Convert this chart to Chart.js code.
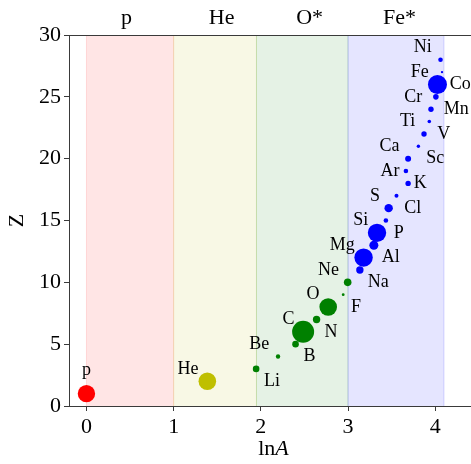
<!DOCTYPE html>
<html>
<head>
<meta charset="utf-8">
<script src="https://cdn.jsdelivr.net/npm/chart.js@4"></script>
<style>
  html, body { margin: 0; padding: 0; background: #ffffff; }
  #wrap { width: 471px; height: 464px; }
</style>
</head>
<body>
<div id="wrap"><canvas id="chart" width="471" height="464"></canvas></div>
<script>
// Nuclear species: symbol, mass number A and charge Z
const symbols = ['p', 'He', 'Li', 'Be', 'B', 'C', 'N', 'O', 'F', 'Ne',
  'Na', 'Mg', 'Al', 'Si', 'P', 'S', 'Cl', 'Ar', 'K', 'Ca',
  'Sc', 'Ti', 'V', 'Cr', 'Mn', 'Fe', 'Co', 'Ni'];
const massNumbers = [1, 4, 7, 9, 11, 12, 14, 16, 19, 20,
  23, 24, 27, 28, 31, 32, 35, 40, 39, 40,
  45, 48, 51, 52, 55, 56, 59, 58];
const charges = [1, 2, 3, 4, 5, 6, 7, 8, 9, 10,
  11, 12, 13, 14, 15, 16, 17, 18, 19, 20,
  21, 22, 23, 24, 25, 26, 27, 28];
// Mass group each species belongs to
const memberOf = ['p', 'He', 'O*', 'O*', 'O*', 'O*', 'O*', 'O*', 'O*', 'O*',
  'Fe*', 'Fe*', 'Fe*', 'Fe*', 'Fe*', 'Fe*', 'Fe*', 'Fe*', 'Fe*', 'Fe*',
  'Fe*', 'Fe*', 'Fe*', 'Fe*', 'Fe*', 'Fe*', 'Fe*', 'Fe*'];

// Mass groups and their lnA ranges
const groupNames = ['p', 'He', 'O*', 'Fe*'];
const groupStart = [0, 1, 1.95, 3];
const groupEnd = [1, 1.95, 3, 4.1];
const groupLabelAt = [0.46, 1.55, 2.56, 3.59];

// Axis ticks
const xTickValues = [0, 1, 2, 3, 4];
const yTickValues = [0, 5, 10, 15, 20, 25, 30];

// ---- styling ----
const groupColor = { 'p': '#ff0000', 'He': '#bfbf00', 'O*': '#008000', 'Fe*': '#0000ff' };
const groupShade = { 'p': 'rgba(255,0,0,0.10)', 'He': 'rgba(191,191,0,0.10)', 'O*': 'rgba(0,128,0,0.10)', 'Fe*': 'rgba(0,0,255,0.10)' };
const groupEdge = { 'p': 'rgba(255,0,0,0.12)', 'He': 'rgba(191,191,0,0.15)', 'O*': 'rgba(0,128,0,0.15)', 'Fe*': 'rgba(0,0,255,0.15)' };
const dotRadius = [8.7, 8.8, 3.3, 2.2, 3.3, 11, 3.7, 8.8, 1.4, 3.8,
  3.7, 9.2, 4.5, 9.2, 2.3, 4.2, 2.0, 2.7, 2.3, 3.0,
  1.7, 2.7, 1.8, 2.7, 2.8, 9.5, 1.2, 2.3];
const SERIF = '"Liberation Serif", "Times New Roman", serif';
const AXIS_COLOR = '#3a3a3a';

const points = symbols.map((s, i) => ({ x: Math.log(massNumbers[i]), y: charges[i] }));

// Shaded lnA bands behind the data
const bandsPlugin = {
  id: 'bands',
  beforeDatasetsDraw(chart) {
    const { ctx, chartArea: a, scales: { x } } = chart;
    ctx.save();
    groupNames.forEach((g, i) => {
      const x0 = x.getPixelForValue(groupStart[i]);
      const x1 = x.getPixelForValue(groupEnd[i]);
      ctx.fillStyle = groupShade[g];
      ctx.fillRect(x0, a.top, x1 - x0, a.bottom - a.top);
      ctx.strokeStyle = groupEdge[g];
      ctx.lineWidth = 1;
      ctx.beginPath();
      ctx.moveTo(x0, a.top); ctx.lineTo(x0, a.bottom);
      ctx.moveTo(x1, a.top); ctx.lineTo(x1, a.bottom);
      ctx.stroke();
    });
    ctx.restore();
  }
};

// Species names, group names, top frame line and axis titles
const textPlugin = {
  id: 'texts',
  afterDatasetsDraw(chart) {
    const { ctx, chartArea: a, scales: { x, y } } = chart;
    ctx.save();
    ctx.fillStyle = '#000';
    ctx.font = '18px ' + SERIF;
    ctx.textBaseline = 'middle';
    symbols.forEach((s, i) => {
      const lx = Math.log(massNumbers[i]);
      const z = charges[i];
      if (i === 0) {
        ctx.textAlign = 'center';
        ctx.fillText(s, x.getPixelForValue(lx), y.getPixelForValue(z + 1.9));
      } else if (z % 2 === 0) {
        ctx.textAlign = 'right';
        ctx.fillText(s, x.getPixelForValue(lx - 0.1), y.getPixelForValue(z + 1));
      } else {
        ctx.textAlign = 'left';
        ctx.fillText(s, x.getPixelForValue(lx + 0.09), y.getPixelForValue(z - 1));
      }
    });

    // group names above the frame
    ctx.font = '22px ' + SERIF;
    ctx.textAlign = 'center';
    ctx.textBaseline = 'alphabetic';
    groupNames.forEach((g, i) => {
      ctx.fillText(g, x.getPixelForValue(groupLabelAt[i]), 23.5);
    });

    // top frame line
    ctx.strokeStyle = AXIS_COLOR;
    ctx.lineWidth = 1;
    ctx.beginPath();
    ctx.moveTo(a.left, a.top + 0.5);
    ctx.lineTo(a.right, a.top + 0.5);
    ctx.stroke();

    // x title: ln A (A italic)
    ctx.font = '22px ' + SERIF;
    const w1 = ctx.measureText('ln').width;
    ctx.font = 'italic 22px ' + SERIF;
    const w2 = ctx.measureText('A').width;
    const cx = (a.left + a.right) / 2 + 3.5;
    const start = cx - (w1 + w2) / 2;
    ctx.textAlign = 'left';
    ctx.font = '22px ' + SERIF;
    ctx.fillText('ln', start, 455);
    ctx.font = 'italic 22px ' + SERIF;
    ctx.fillText('A', start + w1, 455);

    // y title
    ctx.font = '22px ' + SERIF;
    ctx.translate(17, (a.top + a.bottom) / 2);
    ctx.rotate(-Math.PI / 2);
    ctx.textAlign = 'center';
    ctx.textBaseline = 'middle';
    ctx.fillText('Z', 0, 0);
    ctx.restore();
  }
};

new Chart(document.getElementById('chart'), {
  type: 'scatter',
  data: {
    datasets: [{
      data: points,
      backgroundColor: memberOf.map(g => groupColor[g]),
      borderWidth: 0,
      pointRadius: dotRadius,
      pointHoverRadius: dotRadius,
      clip: false
    }]
  },
  options: {
    responsive: false,
    animation: false,
    events: [],
    layout: { padding: { top: 35, left: 0, right: 0, bottom: 0 }, autoPadding: false },
    plugins: { legend: { display: false }, tooltip: { enabled: false } },
    scales: {
      x: {
        type: 'linear',
        min: -0.2,
        max: 4.41,
        afterBuildTicks: s => { s.ticks = xTickValues.map(v => ({ value: v })); },
        afterFit: s => { s.height = 58; },
        ticks: { font: { family: SERIF, size: 22 }, color: '#000', padding: 3, maxRotation: 0 },
        grid: { drawOnChartArea: false, drawTicks: true, tickLength: 5, tickColor: AXIS_COLOR },
        border: { display: true, color: AXIS_COLOR, width: 1 }
      },
      y: {
        type: 'linear',
        min: 0,
        max: 30,
        afterBuildTicks: s => { s.ticks = yTickValues.map(v => ({ value: v })); },
        afterFit: s => { s.width = 69; },
        ticks: { font: { family: SERIF, size: 22 }, color: '#000', padding: 3 },
        grid: { drawOnChartArea: false, drawTicks: true, tickLength: 5, tickColor: AXIS_COLOR },
        border: { display: true, color: AXIS_COLOR, width: 1 }
      }
    }
  },
  plugins: [bandsPlugin, textPlugin]
});
</script>
</body>
</html>
